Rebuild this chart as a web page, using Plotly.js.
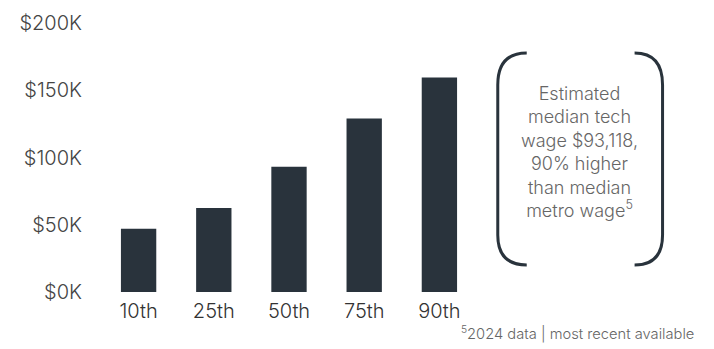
<!DOCTYPE html>
<html>
<head>
<meta charset="utf-8">
<script src="https://cdn.plot.ly/plotly-3.0.1.min.js"></script>
<style>html,body{margin:0;padding:0;background:#fff;}#chart{width:714px;height:349px;}</style>
</head>
<body>
<div id="chart"></div>
<script>
var percentiles = ["10th", "25th", "50th", "75th", "90th"];
var wages = [47000, 62500, 93118, 129000, 159500];
var yTickVals = [0, 50000, 100000, 150000, 200000];
var yTickText = ["$0K", "$50K", "$100K", "$150K", "$200K"];
var noteText = "Estimated<br>median tech<br>wage $93,118,<br>90% higher<br>than median<br>metro wage<sup>5</sup>";
var footText = "<sup>5</sup>2024 data | most recent available";

var W = 714, H = 349;
var L = 100.7, R = 477.2, T = 23, B = 292;
function px(x){ return (x - L) / (R - L); }
function py(y){ return (B - y) / (B - T); }
var leftBr = "M" + px(527) + "," + py(53) + " Q" + px(498) + "," + py(53) + " " + px(498) + "," + py(85) +
  " L" + px(498) + "," + py(235) + " Q" + px(498) + "," + py(265) + " " + px(527) + "," + py(265);
var rightBr = "M" + px(635) + "," + py(53) + " Q" + px(663) + "," + py(53) + " " + px(663) + "," + py(85) +
  " L" + px(663) + "," + py(235) + " Q" + px(663) + "," + py(265) + " " + px(635) + "," + py(265);

var fontFam = "Inter, Roboto, 'Liberation Sans', sans-serif";
var data = [{
  type: "bar",
  x: percentiles,
  y: wages,
  marker: {color: "#29333c"},
  hoverinfo: "none"
}];
var layout = {
  width: W, height: H,
  margin: {l: L, r: W - R, t: T, b: H - B, pad: 0},
  paper_bgcolor: "#fff", plot_bgcolor: "#fff",
  bargap: 0.53,
  showlegend: false,
  font: {family: fontFam, color: "#444", size: 18, weight: 300},
  xaxis: {
    type: "category",
    showgrid: false, zeroline: false, showline: false,
    ticks: "", ticklabelstandoff: 5,
    tickfont: {size: 20, color: "#333", weight: 300},
    fixedrange: true
  },
  yaxis: {
    range: [0, 200000],
    tickvals: yTickVals, ticktext: yTickText,
    showgrid: false, zeroline: false, showline: false,
    ticks: "", ticklabelstandoff: 18,
    tickfont: {size: 20, color: "#444", weight: 300},
    fixedrange: true
  },
  shapes: [
    {type: "path", xref: "paper", yref: "paper", path: leftBr, line: {color: "#29333c", width: 3}},
    {type: "path", xref: "paper", yref: "paper", path: rightBr, line: {color: "#29333c", width: 3}}
  ],
  annotations: [
    {xref: "paper", yref: "paper", x: px(580), y: py(151.5), text: noteText, showarrow: false,
     xanchor: "center", yanchor: "middle", align: "center",
     font: {size: 18, color: "#666", family: fontFam, weight: 300}},
    {xref: "paper", yref: "paper", x: px(696), y: py(333), text: footText, showarrow: false,
     xanchor: "right", yanchor: "middle", align: "right",
     font: {size: 14.7, color: "#666", family: fontFam, weight: 300}}
  ]
};
Plotly.newPlot("chart", data, layout, {displayModeBar: false, staticPlot: true});
</script>
</body>
</html>
